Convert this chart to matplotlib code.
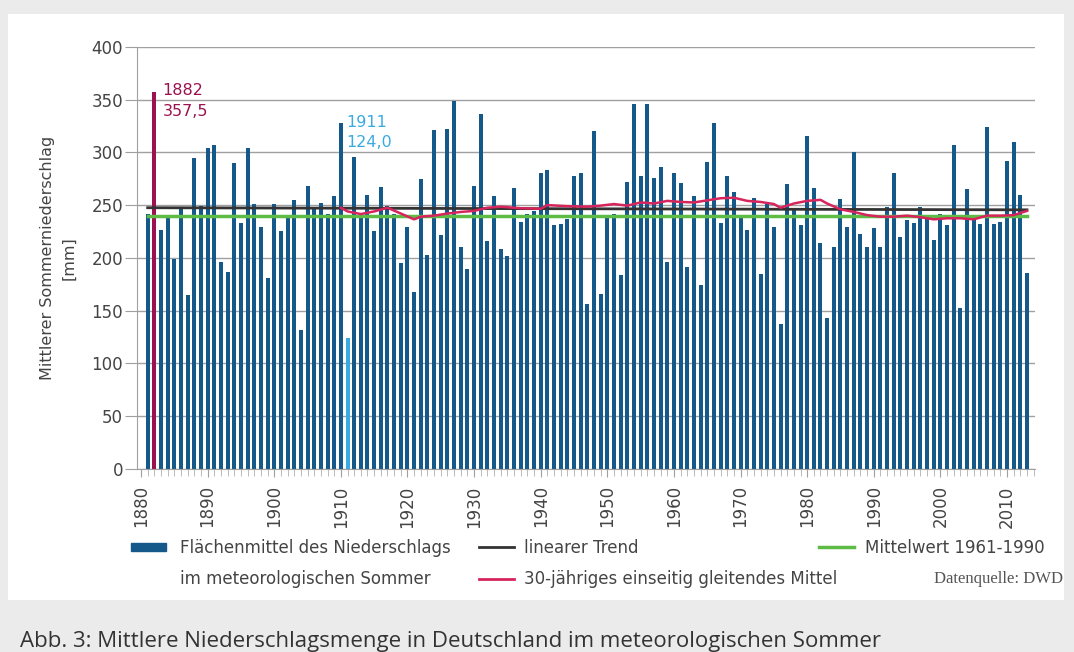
from matplotlib import pyplot as plt
from matplotlib.patches import Rectangle, Patch
from matplotlib.lines import Line2D
from matplotlib.ticker import MultipleLocator
import numpy as np

plt.rcParams['font.family'] = ['DejaVu Sans']

# summer precipitation, area mean Germany [mm], 1881-2013
years = np.arange(1881, 2014)
rain = [242, 357.5, 226, 238, 199, 247, 165, 295, 249, 304,
        307, 196, 187, 290, 233, 304, 251, 229, 181, 251,
        225, 238, 255, 131.5, 268, 247, 252, 242, 259, 328,
        124.0, 296, 241, 260, 225, 267, 249, 242, 195, 229,
        168, 275, 203, 321, 222, 322, 349, 210, 189, 268,
        336, 216, 259, 208, 202, 266, 234, 242, 244, 280,
        283, 231, 232, 237, 278, 280, 156, 320, 166, 238,
        242, 184, 272, 346, 278, 346, 276, 286, 196, 280,
        271, 191, 259, 174, 291, 328, 233, 278, 262, 239,
        226, 257, 185, 252, 229, 137, 270, 245, 231, 316,
        266, 214, 143, 210, 256, 229, 300, 223, 210, 228,
        210, 248, 280, 220, 236, 233, 248, 239, 217, 242,
        231, 307, 152, 265, 238, 232, 324, 232, 234, 292,
        310, 260, 186]

# 30-year one-sided running mean
run_years = [1910, 1911, 1913, 1915, 1917, 1919, 1921, 1922, 1924, 1926,
             1928, 1930, 1932, 1934, 1937, 1940, 1941, 1944, 1947, 1949,
             1951, 1953, 1955, 1957, 1959, 1961, 1963, 1965, 1967, 1969,
             1971, 1973, 1975, 1976, 1978, 1980, 1982, 1983, 1985, 1987,
             1989, 1991, 1993, 1995, 1997, 1999, 2001, 2003, 2005, 2007,
             2009, 2011, 2013]
run_mean = [247.5, 244, 241.5, 244, 247.5, 242, 236.5, 239, 240, 242,
            243.5, 244.5, 247.5, 248.5, 247, 246.5, 250, 249, 248.5, 249.5,
            251, 249.5, 252.5, 251.5, 254, 253, 252.5, 254.5, 256.5, 257,
            254, 253, 251, 247.5, 251.5, 254, 255, 251.5, 246, 243.5,
            240.5, 239, 239, 240, 238.5, 236.5, 237.5, 237.5, 236.5, 240,
            240, 240.5, 244.5]

trend_years = [1881, 2013]
trend_vals = [247.5, 245.5]
ref_mean = 239.5  # Mittelwert 1961-1990

wet_year, dry_year = 1882, 1911

bar_col = "#14598a"
wet_col = "#9c1150"
dry_col = "#3aaae2"
red_col = "#d8245c"
green_col = "#5dbb46"
txt_col = "#444444"

fig = plt.figure(figsize=(10.74, 6.52), dpi=100)
fig.patch.set_facecolor("#ebebeb")
fig.add_artist(Rectangle((8/1074, 1-600/652), 1056/1074, 586/652,
                         transform=fig.transFigure, facecolor="white",
                         edgecolor="none", zorder=0))

ax = fig.add_axes([137/1074, 1-468.6/652, 898/1074, 421.6/652])
ax.set_facecolor("white")

cols = [wet_col if y == wet_year else dry_col if y == dry_year else bar_col for y in years]
ax.bar(years, rain, width=0.6, color=cols, zorder=2)

ax.plot(trend_years, trend_vals, color="#333333", lw=2, zorder=3)
ax.plot([years[0], years[-1]], [ref_mean, ref_mean], color=green_col, lw=2.5, zorder=3)
ax.plot(run_years, run_mean, color=red_col, lw=1.8, zorder=4)

ax.set_ylim(0, 400)
ax.set_xlim(1879.4, 2014.2)
ax.yaxis.set_major_locator(MultipleLocator(50))
ax.xaxis.set_major_locator(MultipleLocator(10))
ax.xaxis.set_minor_locator(MultipleLocator(1))
ax.grid(axis="y", color="#a0a0a0", lw=1, zorder=1)
for s in ["top", "right"]:
    ax.spines[s].set_visible(False)
for s in ["left", "bottom"]:
    ax.spines[s].set_color("#a0a0a0")
ax.tick_params(axis="y", length=9, color="#a0a0a0", labelsize=12, labelcolor=txt_col, pad=1)
ax.tick_params(axis="x", which="major", length=6, color="#a0a0a0", labelsize=12,
               labelcolor=txt_col, labelrotation=90, pad=6)
ax.tick_params(axis="x", which="minor", length=5, color="#b0b0b0")

wet_val = rain[wet_year - years[0]]
dry_val = rain[dry_year - years[0]]
ax.annotate("%d\n%s" % (wet_year, ("%.1f" % wet_val).replace(".", ",")),
            xy=(wet_year, wet_val), xytext=(6, 6), textcoords="offset points",
            va="top", ha="left", color=wet_col, fontsize=11.5, linespacing=1.45)
ax.annotate("%d\n%s" % (dry_year, ("%.1f" % dry_val).replace(".", ",")),
            xy=(dry_year, 328), xytext=(-1, 6), textcoords="offset points",
            va="top", ha="left", color=dry_col, fontsize=11.5, linespacing=1.45)

fig.text(58/1074, 1-258/652, "Mittlerer Sommerniederschlag\n[mm]", rotation=90,
         ha="center", va="center", multialignment="center", fontsize=11.5,
         color=txt_col, linespacing=1.5)

leg_kw = dict(frameon=False, fontsize=12, labelcolor=txt_col, borderpad=0,
              borderaxespad=0, handlelength=2.1, labelspacing=0.8,
              loc="upper left", bbox_transform=fig.transFigure)
l1 = ax.legend([Patch(color=bar_col), Line2D([], [], color="none")],
               ["Flächenmittel des Niederschlags", "im meteorologischen Sommer"],
               bbox_to_anchor=(131/1074, 1-539/652), handleheight=0.4,
               handletextpad=0.85, **leg_kw)
ax.add_artist(l1)
l2 = ax.legend([Line2D([], [], color="#333333", lw=2), Line2D([], [], color=red_col, lw=2)],
               ["linearer Trend", "30-jähriges einseitig gleitendes Mittel"],
               bbox_to_anchor=(479/1074, 1-539/652), handletextpad=0.6, **leg_kw)
ax.add_artist(l2)
ax.legend([Line2D([], [], color=green_col, lw=2.5)], ["Mittelwert 1961-1990"],
          bbox_to_anchor=(819/1074, 1-539/652), handletextpad=0.65, **leg_kw)

fig.text(1063/1074, 1-579/652, "Datenquelle: DWD", ha="right", va="center",
         fontsize=12, color="#555555", family="Liberation Serif")

fig.text(20/1074, 1-647/652, "Abb. 3: Mittlere Niederschlagsmenge in Deutschland im meteorologischen Sommer",
         ha="left", va="baseline", fontsize=16, color="#333333", family="Open Sans")

fig.savefig("out.png", dpi=100, facecolor=fig.get_facecolor())
